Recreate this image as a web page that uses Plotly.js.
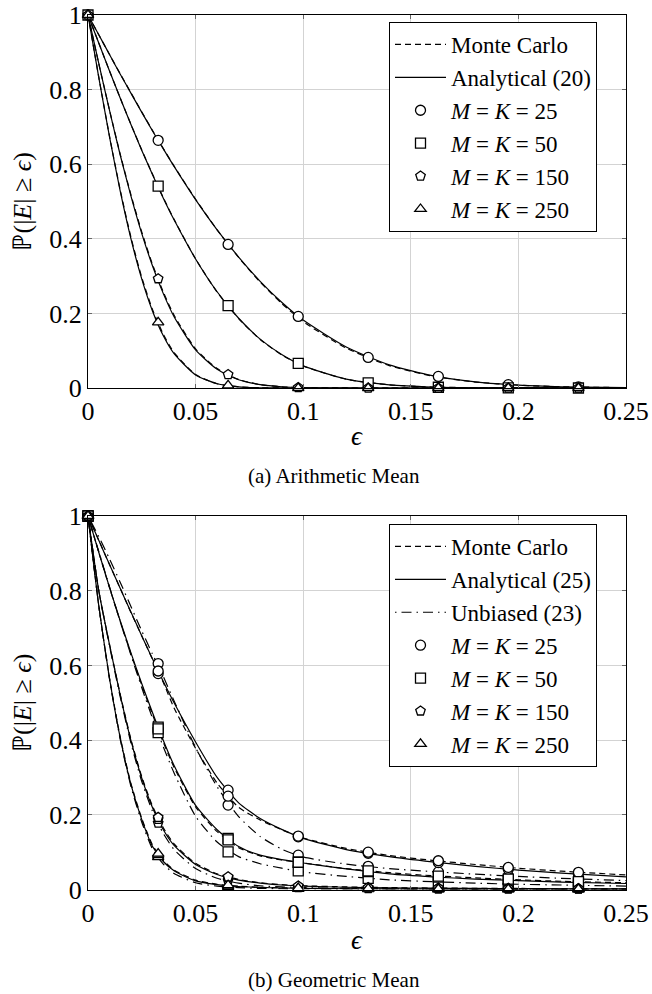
<!DOCTYPE html>
<html>
<head>
<meta charset="utf-8">
<script src="https://cdn.plot.ly/plotly-3.0.1.min.js"></script>
<style>html,body{margin:0;padding:0;background:#fff;}#chart{width:652px;height:994px;}</style>
</head>
<body>
<div id="chart"></div>
<script>
// ---------- data ----------
const EPS = [0,0.005,0.01,0.015,0.02,0.025,0.03,0.035,0.04,0.05,0.06,0.07,0.08,0.09,0.10,0.12,0.14,0.16,0.18,0.20,0.22,0.25];
const EPS_MARK = [0,0.0326,0.0651,0.0977,0.1302,0.1628,0.1953,0.2279];
const SERIES = ["25","50","150","250"];
const SYMBOLS = ["circle","square","pentagon","triangle-up"];

// (a) Arithmetic mean
const arithAnalytical25  = [1,0.947,0.894,0.841,0.790,0.739,0.689,0.641,0.594,0.505,0.424,0.351,0.286,0.230,0.182,0.110,0.062,0.033,0.0164,0.0077,0.0034,0.0009];
const arithAnalytical50  = [1,0.925,0.850,0.777,0.706,0.637,0.572,0.509,0.451,0.346,0.258,0.187,0.131,0.0897,0.0593,0.0236,0.0083,0.0026,0.0007,0.0002,0,0];
const arithAnalytical150 = [1,0.870,0.744,0.624,0.514,0.414,0.327,0.253,0.191,0.102,0.050,0.022,0.009,0.0033,0.0011,0.0001,0,0,0,0,0,0];
const arithAnalytical250 = [1,0.833,0.673,0.527,0.399,0.292,0.206,0.140,0.092,0.035,0.0114,0.0032,0.0007,0.0001,0,0,0,0,0,0,0,0];
const arithMC25  = [1,0.947,0.894,0.842,0.791,0.740,0.690,0.642,0.595,0.506,0.424,0.350,0.284,0.227,0.178,0.107,0.060,0.032,0.016,0.0075,0.0033,0.0009];
const arithMC50  = [1,0.925,0.850,0.777,0.706,0.638,0.573,0.510,0.452,0.346,0.257,0.186,0.130,0.089,0.059,0.0235,0.0085,0.0027,0.0008,0.0002,0,0];
const arithMC150 = [1,0.870,0.745,0.626,0.517,0.418,0.331,0.257,0.195,0.105,0.052,0.023,0.009,0.0033,0.0011,0.0001,0,0,0,0,0,0];
const arithMC250 = [1,0.834,0.675,0.530,0.403,0.296,0.210,0.144,0.095,0.036,0.0115,0.0032,0.0007,0.0001,0,0,0,0,0,0,0,0];
const arithMark25  = [1,0.664,0.385,0.192,0.082,0.031,0.009,0.003];
const arithMark50  = [1,0.541,0.221,0.066,0.014,0.002,0.0003,0];
const arithMark150 = [1,0.293,0.036,0.0015,0,0,0,0];
const arithMark250 = [1,0.176,0.007,0,0,0,0,0];

// (b) Geometric mean
const geoMC25  = [1,0.935,0.870,0.806,0.741,0.679,0.616,0.554,0.486,0.378,0.285,0.220,0.186,0.160,0.138,0.110,0.091,0.078,0.067,0.057,0.049,0.039];
const geoMC50  = [1,0.903,0.808,0.717,0.630,0.547,0.468,0.394,0.327,0.221,0.155,0.112,0.090,0.079,0.071,0.056,0.045,0.037,0.031,0.026,0.022,0.018];
const geoMC150 = [1,0.800,0.656,0.522,0.401,0.302,0.223,0.165,0.122,0.070,0.042,0.027,0.018,0.013,0.010,0.007,0.005,0.004,0.0033,0.0028,0.0024,0.002];
const geoMC250 = [1,0.760,0.566,0.407,0.283,0.190,0.119,0.078,0.052,0.025,0.014,0.009,0.006,0.0045,0.0035,0.0025,0.0018,0.0014,0.0012,0.001,0.0009,0.0008];
const geoAnalytical25  = [1,0.935,0.870,0.806,0.742,0.679,0.617,0.557,0.500,0.395,0.300,0.232,0.190,0.161,0.137,0.107,0.088,0.074,0.062,0.052,0.044,0.034];
const geoAnalytical50  = [1,0.903,0.809,0.719,0.633,0.551,0.473,0.399,0.332,0.225,0.160,0.115,0.092,0.080,0.071,0.055,0.042,0.034,0.028,0.024,0.020,0.016];
const geoAnalytical150 = [1,0.800,0.655,0.520,0.398,0.298,0.219,0.160,0.118,0.067,0.040,0.025,0.017,0.012,0.009,0.006,0.0045,0.0035,0.003,0.0025,0.002,0.0018];
const geoAnalytical250 = [1,0.760,0.565,0.405,0.280,0.187,0.115,0.075,0.050,0.023,0.013,0.008,0.0055,0.004,0.003,0.002,0.0015,0.0012,0.001,0.0008,0.0007,0.0006];
const geoUnbiased25  = [1,0.945,0.885,0.822,0.757,0.692,0.630,0.570,0.505,0.380,0.275,0.195,0.142,0.108,0.087,0.068,0.056,0.048,0.041,0.035,0.030,0.024];
const geoUnbiased50  = [1,0.905,0.810,0.717,0.627,0.540,0.458,0.382,0.312,0.196,0.127,0.088,0.069,0.057,0.047,0.035,0.026,0.021,0.017,0.014,0.012,0.009];
const geoUnbiased150 = [1,0.800,0.652,0.515,0.391,0.289,0.209,0.150,0.107,0.056,0.030,0.017,0.010,0.007,0.005,0.003,0.002,0.0015,0.0012,0.001,0.0009,0.0008];
const geoUnbiased250 = [1,0.760,0.563,0.401,0.275,0.180,0.108,0.068,0.043,0.018,0.009,0.005,0.003,0.002,0.0015,0.001,0.0007,0.0005,0.0004,0.0003,0.0003,0.0002];
const geoMarkMC25  = [1,0.585,0.250,0.143,0.100,0.077,0.059,0.046];
const geoMarkMC50  = [1,0.430,0.133,0.073,0.050,0.036,0.028,0.021];
const geoMarkMC150 = [1,0.193,0.034,0.0095,0.0053,0.004,0.003,0.0023];
const geoMarkMC250 = [1,0.096,0.0115,0.0037,0.0021,0.0014,0.001,0.0009];
const geoMarkAn25  = [1,0.578,0.266,0.141,0.097,0.072,0.054,0.041];
const geoMarkAn50  = [1,0.435,0.137,0.073,0.048,0.033,0.025,0.019];
const geoMarkAn150 = [1,0.188,0.032,0.0085,0.0046,0.0035,0.0026,0.002];
const geoMarkAn250 = [1,0.093,0.0105,0.0032,0.0017,0.0012,0.0008,0.0007];
const geoMarkUn25  = [1,0.605,0.226,0.092,0.062,0.047,0.036,0.028];
const geoMarkUn50  = [1,0.420,0.101,0.050,0.030,0.020,0.015,0.011];
const geoMarkUn150 = [1,0.178,0.024,0.0055,0.0025,0.0015,0.0011,0.0009];
const geoMarkUn250 = [1,0.087,0.007,0.0018,0.0009,0.0005,0.0004,0.0003];

const X_TICKS = [0,0.05,0.1,0.15,0.2,0.25];
const X_TICK_TEXT = ["0","0.05","0.1","0.15","0.2","0.25"];
const Y_TICKS = [0,0.2,0.4,0.6,0.8,1];
const Y_TICK_TEXT = ["0","0.2","0.4","0.6","0.8","1"];

// ---------- styles ----------
const FONT = "Liberation Serif";
const DASH_MC = "6px,4px";
const DASH_UNB = "1.5px,5px,10px,5px";
const LW = 1.2;

const traces = [];
function lineTrace(y, dash, name, show, xa, ya, leg) {
  traces.push({type:"scatter", mode:"lines", x:EPS, y:y, name:name, showlegend:show,
    legend:leg, xaxis:xa, yaxis:ya, line:{color:"#000", width:LW, dash:dash, shape:"spline", smoothing:0.6},
    hoverinfo:"skip"});
}
function markTrace(y, sym, name, show, xa, ya, leg) {
  traces.push({type:"scatter", mode:"markers", x:EPS_MARK, y:y, name:name, showlegend:show,
    legend:leg, xaxis:xa, yaxis:ya, cliponaxis:false,
    marker:{symbol:sym, size:10, color:"#fff", line:{color:"#000", width:1.3}}, hoverinfo:"skip"});
}
const mkName = m => "<i>M</i> = <i>K</i> = " + m;

// (a)
const aMC = [arithMC25, arithMC50, arithMC150, arithMC250];
const aAn = [arithAnalytical25, arithAnalytical50, arithAnalytical150, arithAnalytical250];
const aMk = [arithMark25, arithMark50, arithMark150, arithMark250];
aMC.forEach((y,i)=>lineTrace(y, DASH_MC, "Monte Carlo", i===0, "x", "y", "legend"));
aAn.forEach((y,i)=>lineTrace(y, "solid", "Analytical (20)", i===0, "x", "y", "legend"));
aMk.forEach((y,i)=>markTrace(y, SYMBOLS[i], mkName(SERIES[i]), true, "x", "y", "legend"));

// (b)
const gMC = [geoMC25, geoMC50, geoMC150, geoMC250];
const gAn = [geoAnalytical25, geoAnalytical50, geoAnalytical150, geoAnalytical250];
const gUn = [geoUnbiased25, geoUnbiased50, geoUnbiased150, geoUnbiased250];
const gMkMC = [geoMarkMC25, geoMarkMC50, geoMarkMC150, geoMarkMC250];
const gMkAn = [geoMarkAn25, geoMarkAn50, geoMarkAn150, geoMarkAn250];
const gMkUn = [geoMarkUn25, geoMarkUn50, geoMarkUn150, geoMarkUn250];
gMC.forEach((y,i)=>lineTrace(y, DASH_MC, "Monte Carlo", i===0, "x2", "y2", "legend2"));
gAn.forEach((y,i)=>lineTrace(y, "solid", "Analytical (25)", i===0, "x2", "y2", "legend2"));
gUn.forEach((y,i)=>lineTrace(y, DASH_UNB, "Unbiased (23)", i===0, "x2", "y2", "legend2"));
for (let i=0;i<4;i++){
  markTrace(gMkUn[i], SYMBOLS[i], mkName(SERIES[i]), false, "x2", "y2", "legend2");
  markTrace(gMkAn[i], SYMBOLS[i], mkName(SERIES[i]), false, "x2", "y2", "legend2");
  markTrace(gMkMC[i], SYMBOLS[i], mkName(SERIES[i]), true, "x2", "y2", "legend2");
}

const W = 652, H = 994;
const px = v => v / W, py = v => (H - v) / H;

function xAxis(anchor) {
  return {domain:[px(88), px(626)], range:[0,0.25], anchor:anchor, tickmode:"array",
    tickvals:X_TICKS, ticktext:X_TICK_TEXT, ticks:"inside", ticklen:4, tickcolor:"#666",
    showline:true, linecolor:"#000", linewidth:1, mirror:"ticks", showgrid:true,
    gridcolor:"#d3d3d3", gridwidth:1, zeroline:false, tickfont:{family:FONT, size:26, color:"#000"},
    ticklabeloverflow:"allow", automargin:false};
}
function yAxis(anchor, dom) {
  return {domain:dom, range:[0,1], anchor:anchor, tickmode:"array",
    tickvals:Y_TICKS, ticktext:Y_TICK_TEXT, ticks:"inside", ticklen:4, tickcolor:"#666",
    showline:true, linecolor:"#000", linewidth:1, mirror:"ticks", showgrid:true,
    gridcolor:"#d3d3d3", gridwidth:1, zeroline:false, tickfont:{family:FONT, size:26, color:"#000"},
    ticklabeloverflow:"allow", automargin:false};
}
const legendStyle = (x,y) => ({x:x, y:y, xanchor:"left", yanchor:"top", bgcolor:"#fff",
  bordercolor:"#000", borderwidth:1, font:{family:FONT, size:23, color:"#000"},
  tracegroupgap:0, itemsizing:"trace", itemwidth:51});

function textAnn(text, x, y, size, angle) {
  return {text:text, xref:"paper", yref:"paper", x:px(x), y:py(y), showarrow:false,
    xanchor:"center", yanchor:"middle", textangle:angle||0, font:{family:FONT, size:size, color:"#000"}};
}

const layout = {
  width:W, height:H, margin:{l:0,r:0,t:0,b:0}, paper_bgcolor:"#fff", plot_bgcolor:"#fff",
  font:{family:FONT, color:"#000"},
  showlegend:true,
  xaxis: xAxis("y"),
  yaxis: yAxis("x", [py(388), py(15)]),
  xaxis2: xAxis("y2"),
  yaxis2: yAxis("x2", [py(889.5), py(516)]),
  legend: legendStyle(px(389), py(22)),
  legend2: legendStyle(px(389), py(524)),
  annotations:[
    textAnn("ℙ(|<i>E</i>| ≥ <i>ϵ</i>)", 22, 201.5, 26, -90),
    textAnn("ℙ(|<i>E</i>| ≥ <i>ϵ</i>)", 22, 703, 26, -90),
    textAnn("<i>ϵ</i>", 357, 436, 27),
    textAnn("<i>ϵ</i>", 357, 940, 27),
    textAnn("(a) Arithmetic Mean", 334, 476, 21),
    textAnn("(b) Geometric Mean", 334, 980, 21)
  ]
};
Plotly.newPlot("chart", traces, layout, {staticPlot:true, displayModeBar:false});
</script>
</body>
</html>
